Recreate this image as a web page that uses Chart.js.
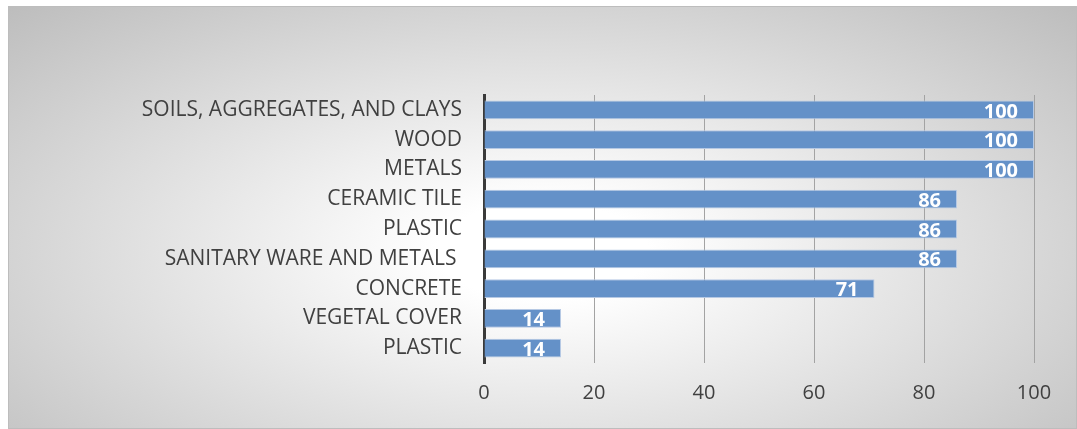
<!DOCTYPE html>
<html>
<head>
<meta charset="utf-8">
<script src="https://cdn.jsdelivr.net/npm/chart.js@4.4.1/dist/chart.umd.min.js"></script>
<style>
  html, body { margin: 0; padding: 0; background: #fff; }
  #frame {
    position: absolute; left: 8px; top: 6px; width: 1069px; height: 423px;
    box-sizing: border-box; border: 1px solid #bdbdbd;
    background: radial-gradient(ellipse farthest-corner at 50% 58%, #ffffff 14%, #bdbdbd 100%);
  }
  #wrap { position: absolute; left: 0; top: 0; width: 1077px; height: 429px; }
</style>
</head>
<body>
<div id="frame"></div>
<div id="wrap"><canvas id="chart_materials"></canvas></div>
<script>
var categories = [
    'SOILS, AGGREGATES, AND CLAYS', 'WOOD', 'METALS', 'CERAMIC TILE', 'PLASTIC',
    'SANITARY WARE AND METALS ', 'CONCRETE', 'VEGETAL COVER', 'PLASTIC'
];
var percentValues = [100, 100, 100, 86, 86, 86, 71, 14, 14];
var xTickValues = [0, 20, 40, 60, 80, 100];

var labelFont = '"Open Sans", sans-serif';

var chart_materials = new Chart(document.getElementById('chart_materials'), {
    type: 'bar',
    data: {
        labels: categories,
        datasets: [
            {
                label: 'Materials',
                data: percentValues,
                backgroundColor: '#6491c8',
                borderColor: '#b6c9e4',
                borderWidth: 1,
                barPercentage: 0.63,
                categoryPercentage: 1.0
            }
        ]
    },
    options: {
        indexAxis: 'y',
        animation: false,
        responsive: true,
        maintainAspectRatio: false,
        layout: {
            padding: { left: 0, top: 95, right: 43, bottom: 0 }
        },
        plugins: {
            legend: { display: false },
            tooltip: { enabled: false }
        },
        scales: {
            x: {
                min: 0,
                max: 100,
                afterBuildTicks: function (scale) {
                    scale.ticks = xTickValues.map(function (v) { return { value: v }; });
                },
                afterFit: function (scale) { scale.height = 66; },
                grid: { color: '#a3a3a3', lineWidth: 1, drawTicks: false },
                border: { display: false },
                ticks: {
                    padding: 18,
                    color: '#404040',
                    font: { family: labelFont, size: 20 }
                }
            },
            y: {
                afterFit: function (scale) { scale.width = 484; },
                grid: { display: false, drawTicks: false },
                border: { display: true, color: '#3a3a3a', width: 3 },
                ticks: {
                    padding: 22,
                    color: '#404040',
                    autoSkip: false,
                    font: { family: labelFont, size: 21 }
                }
            }
        }
    },
    plugins: [{
        id: 'barValueLabels',
        afterDatasetsDraw: function (chart) {
            var ctx = chart.ctx;
            var meta = chart.getDatasetMeta(0);
            ctx.save();
            ctx.fillStyle = '#ffffff';
            ctx.font = 'bold 20px ' + labelFont;
            ctx.textAlign = 'right';
            ctx.textBaseline = 'middle';
            meta.data.forEach(function (bar, i) {
                ctx.fillText(String(percentValues[i]), bar.x - 16, bar.y + 2);
            });
            ctx.restore();
        }
    }]
});
</script>
</body>
</html>
